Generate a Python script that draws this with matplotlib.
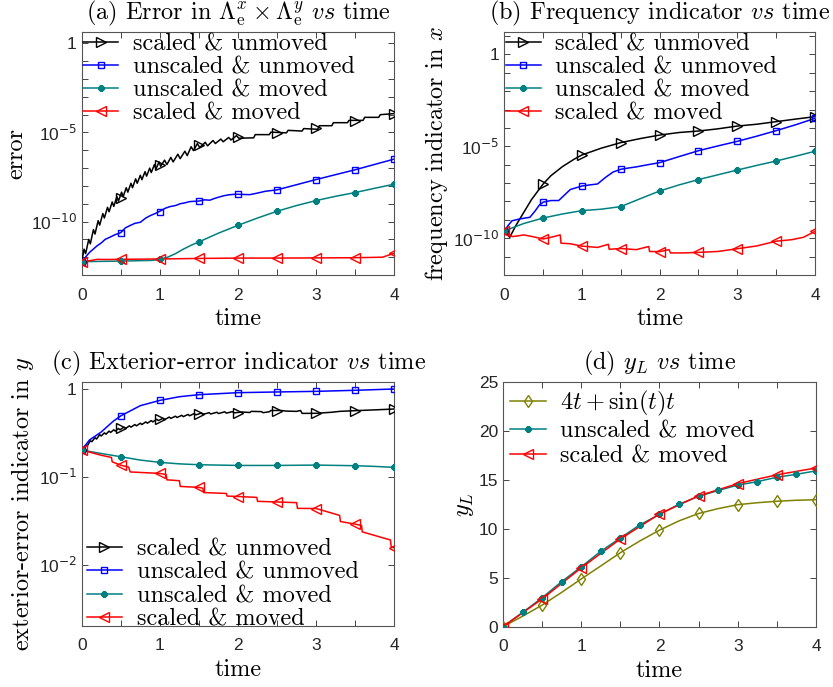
import numpy as np
import matplotlib
matplotlib.use('Agg')
import matplotlib.pyplot as plt
from matplotlib.lines import Line2D

plt.rcParams['mathtext.fontset'] = 'cm'
plt.rcParams['font.family'] = 'cmr10'
plt.rcParams['axes.formatter.use_mathtext'] = True

# ---------------- data (log10 values for the log panels) ----------------
mark_t = [0, 0.5, 1, 1.5, 2, 2.5, 3, 3.5, 4]

# (a) error
a_black_t = [0.00, 0.03, 0.05, 0.09, 0.11, 0.15, 0.17, 0.21, 0.23, 0.27, 0.29, 0.33, 0.35,
             0.39, 0.41, 0.45, 0.47, 0.51, 0.53, 0.57, 0.59, 0.63, 0.65, 0.69, 0.71, 0.75,
             0.77, 0.81, 0.83, 0.87, 0.89, 0.93, 0.95, 0.99, 1.01, 1.06, 1.09, 1.14, 1.17,
             1.23, 1.26, 1.32, 1.35, 1.40, 1.43, 1.48, 1.51, 1.58, 1.61, 1.68, 1.71, 1.78,
             1.81, 1.88, 1.91, 1.98, 2.01, 2.20, 2.22, 2.40, 2.42, 2.62, 2.64, 2.82, 2.84,
             3.02, 3.04, 3.20, 3.22, 3.40, 3.42, 3.60, 3.62, 3.80, 3.82, 4.00]
a_black_v = [-12.25, -11.55, -11.80, -11.00, -11.25, -10.45, -10.70, -9.95, -10.20, -9.55,
             -9.80, -9.20, -9.45, -8.90, -9.15, -8.60, -8.85, -8.35, -8.60, -8.10, -8.35,
             -7.85, -8.10, -7.60, -7.85, -7.40, -7.65, -7.20, -7.45, -7.00, -7.25, -6.80,
             -7.05, -6.65, -6.90, -6.55, -6.80, -6.40, -6.65, -6.22, -6.47, -6.05, -6.30,
             -5.80, -6.02, -5.62, -5.85, -5.55, -5.75, -5.45, -5.62, -5.37, -5.52, -5.28,
             -5.42, -5.18, -5.32, -5.30, -5.12, -5.12, -4.98, -5.02, -4.88, -4.92, -4.78,
             -4.82, -4.62, -4.62, -4.45, -4.45, -4.32, -4.32, -4.15, -4.15, -4.00, -3.94]
a_black_m = [-12.25, -8.67, -6.85, -5.72, -5.25, -5.01, -4.77, -4.35, -3.94]

a_blue_t = [0, 0.1, 0.2, 0.25, 0.3, 0.36, 0.42, 0.5, 0.56, 0.62, 0.68, 0.75, 0.82, 0.88,
            0.94, 1.0, 1.07, 1.13, 1.2, 1.26, 1.32, 1.38, 1.45, 1.5, 1.57, 1.64, 1.7, 1.76,
            1.82, 1.88, 1.95, 2.0, 2.08, 2.15, 2.25, 2.35, 2.5, 3.0, 3.5, 4.0]
a_blue_v = [-12.25, -11.73, -11.35, -11.2, -11.0, -10.88, -10.75, -10.62, -10.35, -10.22,
            -10.1, -10.04, -9.8, -9.66, -9.55, -9.42, -9.25, -9.16, -9.1, -9.0, -8.95,
            -8.88, -8.86, -8.85, -8.78, -8.8, -8.7, -8.62, -8.55, -8.5, -8.47, -8.47,
            -8.48, -8.49, -8.4, -8.3, -8.22, -7.64, -7.09, -6.49]
a_blue_m = [-12.25, -10.64, -9.44, -8.86, -8.48, -8.22, -7.64, -7.09, -6.49]

a_teal_t = [0, 0.5, 0.9, 1.0, 1.1, 1.2, 1.3, 1.4, 1.5, 1.75, 2.0, 2.25, 2.5, 2.75, 3.0,
            3.25, 3.5, 3.75, 4.0]
a_teal_v = [-12.25, -12.22, -12.18, -12.12, -12.0, -11.8, -11.55, -11.33, -11.14, -10.65,
            -10.21, -9.8, -9.42, -9.1, -8.82, -8.58, -8.37, -8.13, -7.9]
a_teal_m = [-12.25, -12.2, -12.12, -11.14, -10.21, -9.42, -8.82, -8.37, -7.9]

a_red_t = [0, 0.1, 0.2, 0.3, 0.5, 1.0, 1.5, 2.0, 2.5, 3.0, 3.5, 3.85, 3.95, 4.0]
a_red_v = [-12.25, -12.2, -12.12, -12.13, -12.12, -12.1, -12.07, -12.05, -12.05, -12.04,
           -12.03, -12.0, -11.85, -11.78]
a_red_m = [-12.25, -12.12, -12.1, -12.07, -12.05, -12.05, -12.04, -12.03, -11.78]

# (b) frequency indicator in x
b_black_t = [0, 0.07, 0.15, 0.25, 0.35, 0.5, 0.6, 0.75, 0.9, 1.0, 1.25, 1.5, 1.75, 2.0,
             2.25, 2.5, 2.75, 3.0, 3.25, 3.5, 3.75, 4.0]
b_black_v = [-9.59, -9.95, -9.3, -8.6, -7.9, -7.05, -6.6, -6.1, -5.7, -5.47, -5.1, -4.8,
             -4.58, -4.39, -4.25, -4.17, -4.05, -3.9, -3.8, -3.66, -3.52, -3.39]
b_black_m = [-9.59, -7.05, -5.47, -4.8, -4.39, -4.17, -3.9, -3.66, -3.39]

b_blue_t = [0, 0.05, 0.1, 0.2, 0.33, 0.4, 0.45, 0.5, 0.6, 0.7, 0.75, 0.85, 1.0, 1.1, 1.2,
            1.3, 1.4, 1.5, 1.6, 1.7, 1.85, 2.0, 2.25, 2.5, 2.75, 3.0, 3.25, 3.5, 3.75, 4.0]
b_blue_v = [-9.6, -9.3, -9.05, -8.95, -8.86, -8.5, -8.2, -8.04, -7.95, -7.95, -7.75, -7.35,
            -7.16, -7.1, -7.05, -6.7, -6.4, -6.25, -6.18, -6.12, -6.0, -5.89, -5.56, -5.24,
            -4.98, -4.73, -4.45, -4.15, -3.83, -3.48]
b_blue_m = [-9.6, -8.04, -7.16, -6.25, -5.89, -5.24, -4.73, -4.15, -3.48]

b_teal_t = [0, 0.25, 0.5, 0.75, 1.0, 1.25, 1.5, 1.75, 2.0, 2.25, 2.5, 2.75, 3.0, 3.25, 3.5,
            3.75, 4.0]
b_teal_v = [-9.6, -9.2, -8.9, -8.68, -8.5, -8.42, -8.28, -7.85, -7.43, -7.1, -6.81, -6.55,
            -6.29, -6.04, -5.8, -5.54, -5.27]
b_teal_m = [-9.6, -8.9, -8.5, -8.28, -7.43, -6.81, -6.29, -5.8, -5.27]

b_red_t = [0, 0.1, 0.18, 0.25, 0.35, 0.5, 0.6, 0.72, 0.73, 0.85, 1.0, 1.2, 1.34, 1.35, 1.5,
           1.7, 1.86, 1.87, 2.0, 2.12, 2.14, 2.3, 2.5, 2.75, 3.0, 3.25, 3.5, 3.7, 3.85, 4.0]
b_red_v = [-9.6, -9.91, -9.87, -9.82, -9.9, -10.04, -9.95, -9.82, -10.27, -10.3, -10.43,
           -10.5, -10.33, -10.6, -10.56, -10.62, -10.45, -10.72, -10.73, -10.62, -10.8,
           -10.8, -10.77, -10.72, -10.57, -10.42, -10.16, -10.08, -9.95, -9.63]
b_red_m = [-9.6, -10.04, -10.44, -10.56, -10.73, -10.77, -10.57, -10.15, -9.63]

# (c) exterior-error indicator in y
c_blue_t = [0, 0.1, 0.25, 0.4, 0.5, 0.75, 1.0, 1.25, 1.5, 2.0, 2.5, 3.0, 3.5, 4.0]
c_blue_v = [-0.696, -0.58, -0.49, -0.37, -0.306, -0.19, -0.13, -0.088, -0.065, -0.042,
            -0.034, -0.027, -0.015, 0.0]
c_blue_m = [-0.696, -0.306, -0.13, -0.065, -0.042, -0.034, -0.027, -0.015, 0.0]

c_black_t = [0, 0.05, 0.07, 0.11, 0.13, 0.17, 0.19, 0.23, 0.25, 0.29, 0.31, 0.35, 0.37,
             0.41, 0.43, 0.47, 0.49, 0.54, 0.56, 0.61, 0.63, 0.68, 0.70, 0.75, 0.77, 0.82,
             0.84, 0.89, 0.91, 0.96, 0.98, 1.04, 1.06, 1.12, 1.14, 1.20, 1.22, 1.28, 1.30,
             1.36, 1.38, 1.44, 1.46, 1.53, 1.55, 1.63, 1.65, 1.73, 1.75, 1.83, 1.85, 1.93,
             1.95, 2.05, 2.15, 2.17, 2.30, 2.32, 2.40, 2.42, 2.55, 2.62, 2.75, 2.80, 2.82,
             3.0, 3.2, 3.3, 3.5, 3.75, 4.0]
c_black_v = [-0.696, -0.64, -0.65, -0.59, -0.60, -0.555, -0.57, -0.52, -0.535, -0.50,
             -0.515, -0.48, -0.495, -0.465, -0.48, -0.45, -0.465, -0.435, -0.45, -0.42,
             -0.435, -0.405, -0.42, -0.39, -0.405, -0.375, -0.39, -0.36, -0.375, -0.345,
             -0.36, -0.335, -0.35, -0.32, -0.335, -0.31, -0.325, -0.30, -0.315, -0.29,
             -0.305, -0.28, -0.295, -0.275, -0.29, -0.27, -0.285, -0.265, -0.28, -0.26,
             -0.275, -0.258, -0.272, -0.262, -0.268, -0.255, -0.258, -0.270, -0.26, -0.245,
             -0.245, -0.252, -0.255, -0.245, -0.278, -0.277, -0.265, -0.255, -0.247,
             -0.238, -0.228]
c_black_m = [-0.696, -0.449, -0.342, -0.285, -0.27, -0.247, -0.277, -0.247, -0.228]

c_teal_t = [0, 0.25, 0.5, 0.75, 1.0, 1.25, 1.5, 2.0, 2.5, 3.0, 3.5, 3.75, 4.0]
c_teal_v = [-0.696, -0.735, -0.772, -0.81, -0.836, -0.853, -0.863, -0.871, -0.871, -0.867,
            -0.874, -0.882, -0.893]
c_teal_m = [-0.696, -0.772, -0.836, -0.863, -0.871, -0.871, -0.867, -0.874, -0.893]

c_red_t = [0, 0.25, 0.38, 0.39, 0.5, 0.6, 0.62, 1.0, 1.08, 1.09, 1.25, 1.26, 1.5, 1.55,
           1.56, 1.85, 1.86, 2.0, 2.24, 2.25, 2.5, 2.75, 2.76, 3.0, 3.30, 3.31, 3.5, 3.58,
           3.59, 3.95, 3.96, 4.0]
c_red_v = [-0.696, -0.755, -0.78, -0.83, -0.868, -0.89, -0.945, -0.962, -0.975, -1.035,
           -1.045, -1.11, -1.121, -1.13, -1.18, -1.19, -1.22, -1.225, -1.235, -1.28, -1.287,
           -1.295, -1.36, -1.362, -1.44, -1.51, -1.54, -1.555, -1.628, -1.72, -1.80, -1.81]
c_red_m = [-0.696, -0.867, -0.962, -1.121, -1.225, -1.287, -1.362, -1.54, -1.81]

# (d) y_L
d_olive_t = [0, 0.25, 0.5, 0.75, 1.0, 1.25, 1.5, 1.75, 2.0, 2.25, 2.5, 2.75, 3.0, 3.25,
             3.5, 3.75, 4.0]
d_olive_v = [0, 1.06, 2.2, 3.5, 4.87, 6.2, 7.55, 8.75, 9.85, 10.8, 11.55, 12.05, 12.45,
             12.65, 12.8, 12.9, 12.96]
d_olive_mt = [0, 0.5, 1, 1.5, 2, 2.5, 3, 3.5, 4]
d_olive_m = [0, 2.2, 4.87, 7.55, 9.85, 11.55, 12.45, 12.8, 12.96]

d_teal_t = [0, 0.25, 0.5, 0.75, 1.0, 1.25, 1.5, 1.75, 2.0, 2.25, 2.5, 2.75, 3.0, 3.25,
            3.5, 3.75, 4.0]
d_teal_v = [0, 1.45, 2.95, 4.6, 6.1, 7.7, 9.05, 10.4, 11.45, 12.5, 13.3, 13.9, 14.45,
            14.8, 15.25, 15.55, 15.9]

d_red_t = [0, 0.5, 1, 1.5, 2, 2.5, 3, 3.5, 4]
d_red_v = [0, 2.83, 6.0, 8.95, 11.5, 13.35, 14.6, 15.5, 16.2]

labels4 = ['scaled & unmoved', 'unscaled & unmoved', 'unscaled & moved', 'scaled & moved']
xtick_pos = [0, 0.5, 1, 1.5, 2, 2.5, 3, 3.5, 4]
xtick_lab = ['0', '', '1', '', '2', '', '3', '', '4']

# ---------------- styles ----------------
BLACK = 'k'
BLUE = '#0000ff'
TEAL = '#008080'
RED = '#ff0000'
OLIVE = '#808000'
AXC = '#262626'
LW = 1.1
FS = 17.5     # titles / axis labels
LFS = 17.5    # legend text
TFS = 12.5    # tick labels

sty = {
    'black': dict(color=BLACK, marker='>', ms=6.5, mfc='none', mew=1.0),
    'blue': dict(color=BLUE, marker='s', ms=5, mfc='none', mew=1.0),
    'teal': dict(color=TEAL, marker=(8, 2, 0), ms=4.5, mew=1.6),
    'red': dict(color=RED, marker='<', ms=6.5, mfc='none', mew=1.0),
    'olive': dict(color=OLIVE, marker='d', ms=6.5, mfc='none', mew=1.0),
}


def curve(ax, t, v, tm, vm, key, log=True):
    s = sty[key]
    if log:
        v = [10.0 ** x for x in v]
        vm = [10.0 ** x for x in vm]
    ax.plot(t, v, color=s['color'], lw=LW, zorder=3)
    ax.plot(tm, vm, linestyle='none', zorder=4, **s)


def handle(key):
    return Line2D([], [], lw=LW, **sty[key])


def style_axes(ax, title, ylabel):
    ax.set_xlim(0, 4)
    ax.set_xticks(xtick_pos)
    ax.set_xticklabels(xtick_lab, fontfamily='Liberation Sans')
    ax.tick_params(which='both', direction='in', top=True, right=True, length=4,
                   width=0.6, color=AXC, labelsize=TFS, labelcolor=AXC)
    ax.tick_params(axis='x', pad=9)
    ax.tick_params(which='minor', length=0)
    for sp in ax.spines.values():
        sp.set_color('#555555')
        sp.set_linewidth(0.8)
    ax.set_title(title, fontsize=FS, pad=9)
    ax.set_xlabel('time', fontsize=FS, labelpad=4)
    ax.set_ylabel(ylabel, fontsize=FS, labelpad=2)


def log_ticks(ax, lo, hi, labelled):
    pos = [10.0 ** k for k in range(lo, hi + 1)]
    labs = []
    for k in range(lo, hi + 1):
        if k in labelled:
            labs.append('1' if k == 0 else '10$^{%d}$' % k)
        else:
            labs.append('')
    ax.set_yticks(pos)
    ax.set_yticklabels(labs, fontfamily='Liberation Sans', math_fontfamily='dejavusans')


fig = plt.figure(figsize=(8.33, 6.87), dpi=100)
axa = fig.add_axes([0.0981, 0.5997, 0.3753, 0.3537])
axb = fig.add_axes([0.6054, 0.5997, 0.3730, 0.3541])
axc = fig.add_axes([0.0981, 0.0888, 0.3753, 0.3556])
axd = fig.add_axes([0.6038, 0.0878, 0.3758, 0.3566])

# (a)
axa.set_yscale('log')
curve(axa, a_black_t, a_black_v, mark_t, a_black_m, 'black')
curve(axa, a_blue_t, a_blue_v, mark_t, a_blue_m, 'blue')
curve(axa, a_teal_t, a_teal_v, mark_t, a_teal_m, 'teal')
curve(axa, a_red_t, a_red_v, mark_t, a_red_m, 'red')
axa.set_ylim(1e-13, 10 ** 0.64)
log_ticks(axa, -13, 0, [0, -5, -10])
style_axes(axa, r'(a) Error in $\Lambda_{\rm e}^{x}\times\Lambda_{\rm e}^{y}$ $vs$ time', 'error')

# (b)
axb.set_yscale('log')
curve(axb, b_black_t, b_black_v, mark_t, b_black_m, 'black')
curve(axb, b_blue_t, b_blue_v, mark_t, b_blue_m, 'blue')
curve(axb, b_teal_t, b_teal_v, mark_t, b_teal_m, 'teal')
curve(axb, b_red_t, b_red_v, mark_t, b_red_m, 'red')
axb.set_ylim(1e-12, 10 ** 1.23)
log_ticks(axb, -12, 1, [0, -5, -10])
style_axes(axb, r'(b) Frequency indicator $vs$ time', r'frequency indicator in $x$')

# (c)
axc.set_yscale('log')
curve(axc, c_black_t, c_black_v, mark_t, c_black_m, 'black')
curve(axc, c_blue_t, c_blue_v, mark_t, c_blue_m, 'blue')
curve(axc, c_teal_t, c_teal_v, mark_t, c_teal_m, 'teal')
curve(axc, c_red_t, c_red_v, mark_t, c_red_m, 'red')
axc.set_ylim(10 ** -2.70, 10 ** 0.083)
log_ticks(axc, -2, 0, [0, -1, -2])
style_axes(axc, r'(c) Exterior-error indicator $vs$ time', r'exterior-error indicator in $y$')

# (d)
curve(axd, d_olive_t, d_olive_v, d_olive_mt, d_olive_m, 'olive', log=False)
curve(axd, d_teal_t, d_teal_v, d_teal_t, d_teal_v, 'teal', log=False)
curve(axd, d_red_t, d_red_v, d_red_t, d_red_v, 'red', log=False)
axd.set_ylim(0, 25)
axd.set_yticks([0, 5, 10, 15, 20, 25])
axd.set_yticklabels(['0', '5', '10', '15', '20', '25'], fontfamily='Liberation Sans')
style_axes(axd, r'(d) $y_L$ $vs$ time', r'$y_L$')

leg_kw = dict(frameon=False, fontsize=LFS, handlelength=1.45, handletextpad=0.6,
              labelspacing=0.04, borderaxespad=0.05, borderpad=0.0)
hs = [handle('black'), handle('blue'), handle('teal'), handle('red')]
axa.legend(hs, labels4, loc='upper left', **leg_kw)
axb.legend(hs, labels4, loc='upper left', **leg_kw)
axc.legend(hs, labels4, loc='lower left', bbox_to_anchor=(0.012, -0.022), **leg_kw)
axd.legend([handle('olive'), handle('teal'), handle('red')],
           [r'$4t+\sin(t)t$', 'unscaled & moved', 'scaled & moved'],
           loc='upper left', **dict(leg_kw, labelspacing=0.1, borderaxespad=0.3))

fig.savefig('out.png', dpi=100)
